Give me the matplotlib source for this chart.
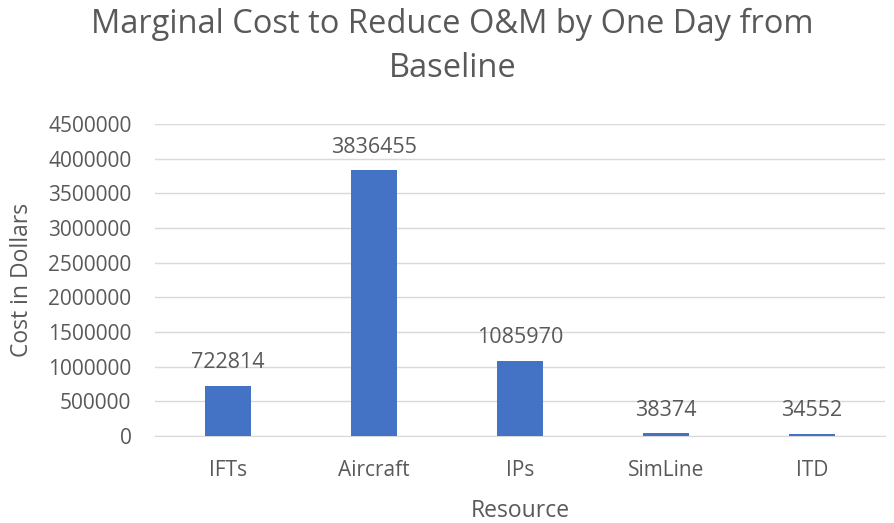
import matplotlib.pyplot as plt

plt.rcParams['font.family'] = ['Open Sans', 'DejaVu Sans']

recursos = ['IFTs', 'Aircraft', 'IPs', 'SimLine', 'ITD']
costos = [722814, 3836455, 1085970, 38374, 34552]
y_ticks = [0, 500000, 1000000, 1500000, 2000000, 2500000, 3000000, 3500000, 4000000, 4500000]

gris = '#595959'

fig = plt.figure(figsize=(8.94, 5.23), dpi=100)
ax = fig.add_axes([155 / 894, 1 - 436 / 523, 730 / 894, 312 / 523])

x = range(len(recursos))
ax.bar(x, costos, width=0.31, color='#4472C4', zorder=3)

# etiquetas de valores encima de cada barra
for xi, v in zip(x, costos):
    ax.annotate(str(v), (xi, v), xytext=(0, 9), textcoords='offset points',
                ha='center', va='bottom', fontsize=15.5, color=gris)

ax.set_xlim(-0.5, len(recursos) - 0.5)
ax.set_ylim(0, 4500000)
ax.set_yticks(y_ticks)
ax.set_yticklabels([str(t) for t in y_ticks])
ax.set_xticks(list(x))
ax.set_xticklabels(recursos)
ax.tick_params(axis='both', labelsize=15, colors=gris, length=0)
ax.tick_params(axis='x', pad=17)
ax.tick_params(axis='y', pad=17)
ax.grid(axis='y', color='#d9d9d9', linewidth=1, zorder=0)

for s in ['top', 'right', 'left']:
    ax.spines[s].set_visible(False)
ax.spines['bottom'].set_color('#d9d9d9')

ax.set_xlabel('Resource', fontsize=16.5, color=gris, labelpad=13)
ax.set_ylabel('Cost in Dollars', fontsize=16.5, color=gris, labelpad=10)

fig.text(0.506, 0.985, 'Marginal Cost to Reduce O&M by One Day from\nBaseline',
         ha='center', va='top', fontsize=23.5, color=gris, linespacing=1.45)

fig.savefig('out.png', dpi=100)
